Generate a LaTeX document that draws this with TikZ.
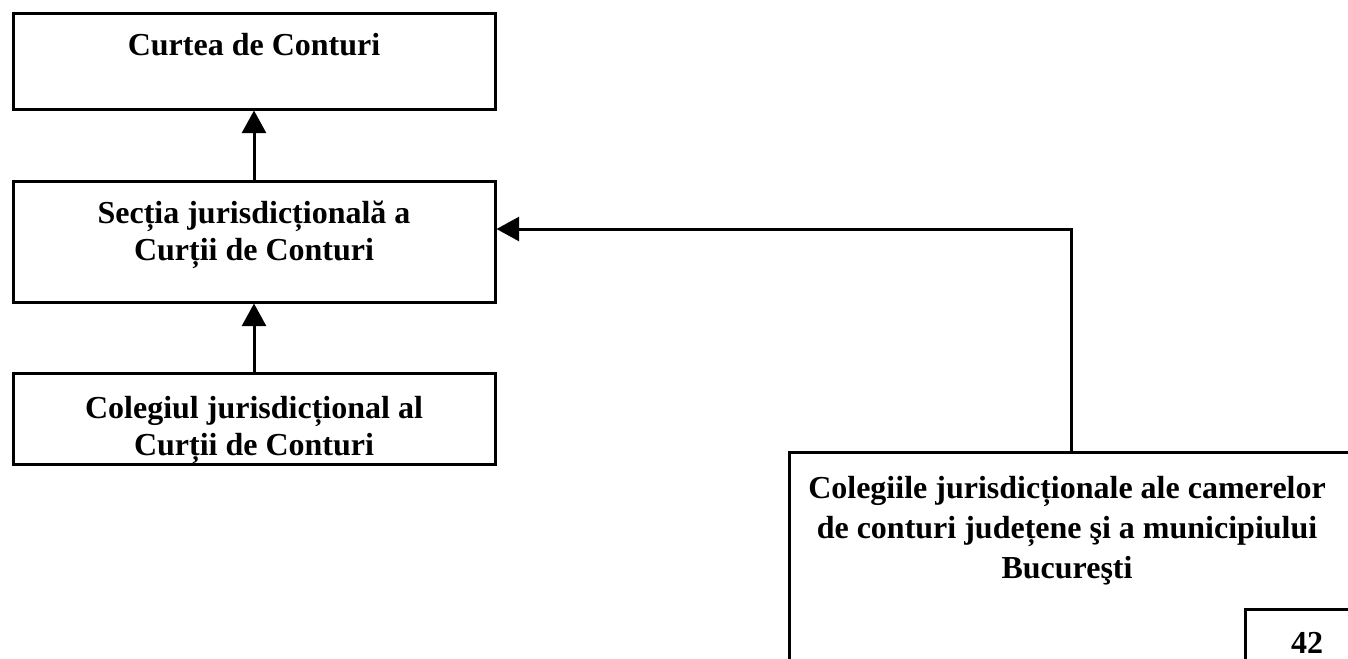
\documentclass[tikz,border=0pt]{standalone}
\usepackage{fontspec}
\setmainfont{Liberation Serif}
\usetikzlibrary{arrows.meta}
\tikzset{every picture/.style={line width=2.25pt}}
\tikzset{
  box/.style={draw, line width=2.25pt, inner sep=0pt},
  lbl/.style={font=\bfseries\fontsize{24}{28}\selectfont, align=center, inner sep=0pt},
  conn/.style={line width=2.25pt, -{Triangle[length=17pt,width=18pt]}}
}

\begin{document}
\begin{tikzpicture}[x=0.75pt,y=0.75pt,yscale=-1,xscale=1]
		\clip (0,0) rectangle (1348,658);
		
		%Shape: Rectangle
		\node[box, minimum width=361.5pt, minimum height=72pt] (curtea) at (254,61) {};
		%Shape: Rectangle
		\node[box, minimum width=361.5pt, minimum height=90.75pt] (sectia) at (254,241.5) {};
		%Shape: Rectangle
		\node[box, minimum width=361.5pt, minimum height=68.25pt] (colegiul) at (254,418.5) {};
		%Shape: Rectangle
		\node[box, minimum width=428.25pt, minimum height=171pt] (camere) at (1074.5,566) {};
		%Shape: Rectangle
		\node[box, minimum width=93pt, minimum height=55.5pt] (pagina) at (1307,646) {};
		
		% Text Node
		\node[lbl] (curteaT) at (254,45) {Curtea de Conturi};
		% Text Node
		\node[lbl] (sectiaT) at (254,235) {Secția jurisdicțională a\\ Curții de Conturi};
		% Text Node
		\node[lbl] (colegiulT) at (254,430) {Colegiul jurisdicțional al\\ Curții de Conturi};
		% Text Node
		\node[lbl, font=\bfseries\fontsize{24}{30}\selectfont] (camereT) at (1067,531) {Colegiile jurisdicționale ale camerelor\\ de conturi județene şi a municipiului\\ Bucureşti};
		% Text Node
		\node[lbl] (paginaT) at (1307,643) {42};
		
		%Arrows
		\coordinate (cot) at (1071,229);
		\draw[conn] (sectia) -- (curtea);
		\draw[conn] (colegiul) -- (sectia);
		\draw[conn] (camere.north -| cot) -- (cot) -- (sectia.east |- cot);
		
\end{tikzpicture}
\end{document}
